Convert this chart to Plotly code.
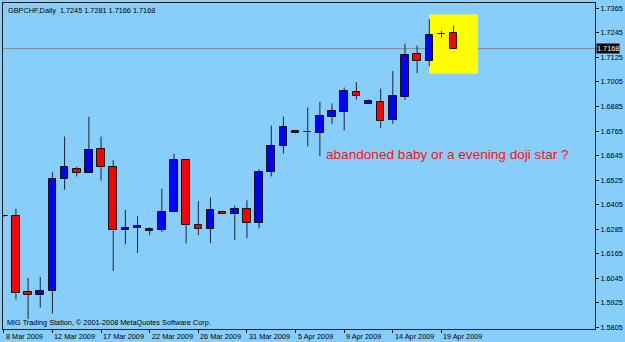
import plotly.graph_objects as go

# ---------------- data ----------------
dates = ["8 Mar", "9 Mar", "10 Mar", "11 Mar", "12 Mar", "13 Mar", "15 Mar", "16 Mar", "17 Mar",
         "18 Mar", "19 Mar", "20 Mar", "22 Mar", "23 Mar", "24 Mar", "25 Mar", "26 Mar", "27 Mar",
         "29 Mar", "30 Mar", "31 Mar", "1 Apr", "2 Apr", "3 Apr", "5 Apr", "6 Apr", "7 Apr", "8 Apr",
         "9 Apr", "10 Apr", "12 Apr", "13 Apr", "14 Apr", "15 Apr", "16 Apr", "17 Apr", "19 Apr", "20 Apr"]
opens = [1.6348, 1.6351, 1.5976, 1.5962, 1.5982, 1.6529, 1.6577, 1.6561, 1.6678, 1.6588,
         1.6279, 1.6289, 1.6276, 1.6283, 1.6369, 1.6622, 1.6305, 1.6286, 1.6371, 1.6357,
         1.6383, 1.6317, 1.6566, 1.6692, 1.6754, 1.6759, 1.6756, 1.6834, 1.6859, 1.6957,
         1.6897, 1.6908, 1.6818, 1.6933, 1.7141, 1.7108, 1.7238, 1.7245]
highs = [1.6352, 1.6385, 1.6047, 1.6052, 1.6564, 1.6738, 1.6591, 1.6835, 1.6738, 1.6624,
         1.6380, 1.6348, 1.6293, 1.6483, 1.6653, 1.6627, 1.6422, 1.6440, 1.6372, 1.6401,
         1.6426, 1.6578, 1.6791, 1.6835, 1.6767, 1.6880, 1.6907, 1.6900, 1.6978, 1.7004,
         1.6919, 1.6972, 1.7058, 1.7192, 1.7183, 1.7311, 1.7254, 1.7281]
lows = [1.6345, 1.5942, 1.5845, 1.5902, 1.5873, 1.6478, 1.6543, 1.6561, 1.6523, 1.6081,
        1.6211, 1.6169, 1.6255, 1.6271, 1.6369, 1.6215, 1.6256, 1.6217, 1.6356, 1.6231,
        1.6242, 1.6289, 1.6543, 1.6655, 1.6752, 1.6690, 1.6642, 1.6800, 1.6768, 1.6919,
        1.6897, 1.6780, 1.6800, 1.6918, 1.7048, 1.7082, 1.7222, 1.7166]
closes = [1.6348, 1.5971, 1.5962, 1.5982, 1.6531, 1.6588, 1.6562, 1.6674, 1.6588, 1.6279,
          1.6293, 1.6299, 1.6286, 1.6371, 1.6622, 1.6305, 1.6286, 1.6380, 1.6357, 1.6383,
          1.6317, 1.6566, 1.6692, 1.6783, 1.6765, 1.6761, 1.6839, 1.6861, 1.6962, 1.6937,
          1.6910, 1.6814, 1.6935, 1.7136, 1.7107, 1.7236, 1.7238, 1.7168]

xtick_idx = [0, 4, 8, 12, 16, 20, 24, 28, 32, 36]
xtick_text = ["8 Mar 2009", "12 Mar 2009", "17 Mar 2009", "22 Mar 2009", "26 Mar 2009",
              "31 Mar 2009", "5 Apr 2009", "9 Apr 2009", "14 Apr 2009", "19 Apr 2009"]
ytick_vals = [1.5805, 1.5925, 1.6045, 1.6165, 1.6285, 1.6405, 1.6525, 1.6645,
              1.6765, 1.6885, 1.7005, 1.7125, 1.7245, 1.7365]
current_price = 1.7168
title_text = "GBPCHF,Daily  1.7245 1.7281 1.7166 1.7168"
note_text = "abandoned baby or a evening doji star ?"
copyright_text = "MIG Trading Station, © 2001-2008 MetaQuotes Software Corp."
box_x = [35, 39]
box_y = [1.7045, 1.7334]
note_pos = (26.37, 1.6650)

# ---------------- figure ----------------
FONT = "Liberation Sans, Arial, sans-serif"
BG = "#87CEFA"
n = len(dates)
idx = list(range(n))

wx, wy = [], []
for i in idx:
    top = max(opens[i], closes[i])
    bot = min(opens[i], closes[i])
    wx += [i, i, None, i, i, None]
    wy += [highs[i], top, None, bot, lows[i], None]

minh = 0.00006
base = [min(o, c) for o, c in zip(opens, closes)]
hgt = [max(abs(c - o), minh) for o, c in zip(opens, closes)]
cols = ["#0000FF" if c > o else ("#FF0000" if c < o else "#000000") for o, c in zip(opens, closes)]

fig = go.Figure()
fig.add_trace(go.Bar(x=idx, y=hgt, base=base, width=0.62,
                     marker=dict(color=cols, line=dict(color="#111111", width=1)),
                     hoverinfo="skip", showlegend=False))
fig.add_trace(go.Scatter(x=wx, y=wy, mode="lines", line=dict(color="#1c2430", width=1),
                         hoverinfo="skip", showlegend=False))

xr = [-0.065, 48.63]
yr = [1.57972, 1.73908]

fig.update_layout(
    width=625, height=342,
    margin=dict(l=2, r=28, t=2, b=13, pad=0),
    paper_bgcolor=BG, plot_bgcolor=BG,
    font=dict(family=FONT, size=7.3, color="#000000"),
    bargap=0,
    xaxis=dict(range=xr, showgrid=False, zeroline=False, tickvals=xtick_idx,
               showticklabels=False, ticks="outside", ticklen=3, tickcolor="#000000",
               showline=True, mirror=True, linecolor="#1a1a1a", linewidth=1, fixedrange=True),
    yaxis=dict(range=yr, side="right", showgrid=False, zeroline=False, tickvals=ytick_vals,
               ticktext=[f"{v:.4f}" for v in ytick_vals], ticks="outside", ticklen=3,
               tickcolor="#000000", tickfont=dict(family=FONT, size=7.3, color="#000000"),
               showline=True, mirror=True, linecolor="#1a1a1a", linewidth=1, fixedrange=True),
    shapes=[
        dict(type="rect", xref="x", yref="y", x0=box_x[0], x1=box_x[1], y0=box_y[0], y1=box_y[1],
             fillcolor="#FFFF00", line=dict(width=0), layer="below"),
        dict(type="line", xref="paper", yref="y", x0=0, x1=1, y0=current_price, y1=current_price,
             line=dict(color="#808a94", width=1), layer="below"),
    ],
)

annotations = []
for v, t in zip(xtick_idx, xtick_text):
    annotations.append(dict(x=v, y=0, xref="x", yref="paper", text=t, showarrow=False,
                            xanchor="left", yanchor="middle", xshift=0, yshift=-7,
                            font=dict(family=FONT, size=7.3, color="#000000")))
annotations.append(dict(x=0, y=1, xref="paper", yref="paper", text=title_text, showarrow=False,
                        xanchor="left", yanchor="top", xshift=3, yshift=-1,
                        font=dict(family=FONT, size=7.3, color="#000000")))
annotations.append(dict(x=0, y=0, xref="paper", yref="paper", text=copyright_text, showarrow=False,
                        xanchor="left", yanchor="middle", xshift=2, yshift=7,
                        font=dict(family=FONT, size=7.3, color="#000000")))
annotations.append(dict(x=note_pos[0], y=note_pos[1], xref="x", yref="y", text=note_text,
                        showarrow=False, xanchor="left", yanchor="middle",
                        font=dict(family=FONT, size=13.6, color="#FF1010")))
annotations.append(dict(x=1, y=current_price, xref="paper", yref="y", text=f"{current_price:.4f}",
                        showarrow=False, xanchor="left", yanchor="middle", xshift=1,
                        bgcolor="#000000", borderpad=0,
                        font=dict(family=FONT, size=7.3, color="#FFFFFF")))
fig.update_layout(annotations=annotations)

fig.write_html("out.html", config={"displayModeBar": False})
